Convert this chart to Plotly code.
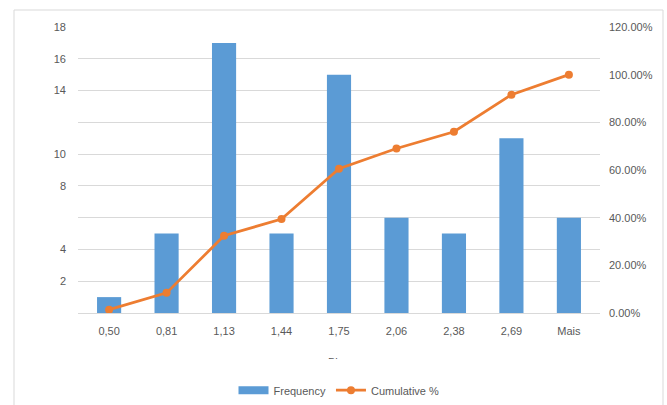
import plotly.graph_objects as go

# Histogram output: bin labels, counts per bin and cumulative share (%)
bins = ["0,50", "0,81", "1,13", "1,44", "1,75", "2,06", "2,38", "2,69", "Mais"]
frequency = [1, 5, 17, 5, 15, 6, 5, 11, 6]
cumulative_pct = [1.41, 8.45, 32.39, 39.44, 60.56, 69.01, 76.06, 91.55, 100.00]

left_ticks = [0, 2, 4, 6, 8, 10, 12, 14, 16, 18]
left_labels = ["", "2", "4", "", "8", "10", "", "14", "16", "18"]
right_ticks = [0, 0.2, 0.4, 0.6, 0.8, 1.0, 1.2]

FONT = "Liberation Sans"
TEXT = "#595959"
GRID = "#D9D9D9"
BLUE = "#5B9BD5"
ORANGE = "#ED7D31"

fig = go.Figure()
fig.add_trace(go.Bar(
    x=bins, y=frequency, name="Frequency", showlegend=False,
    marker=dict(color=BLUE, line=dict(width=0)),
    width=0.42,
))
# Legend entry for the bars, drawn as a wide flat swatch
fig.add_trace(go.Scatter(
    x=[None], y=[None], name="Frequency", mode="lines",
    line=dict(color=BLUE, width=8),
))
fig.add_trace(go.Scatter(
    x=bins, y=[v / 100 for v in cumulative_pct], name="Cumulative %",
    mode="lines+markers", yaxis="y2",
    line=dict(color=ORANGE, width=2.75),
    marker=dict(color=ORANGE, size=8),
))

fig.update_layout(
    width=667, height=405,
    margin=dict(l=78, r=67, t=27, b=92, autoexpand=False),
    paper_bgcolor="white", plot_bgcolor="white",
    font=dict(family=FONT, size=11, color=TEXT),
    showlegend=True,
    legend=dict(orientation="h", x=0.5, xanchor="center", y=-0.27, yanchor="middle",
                font=dict(family=FONT, size=11, color=TEXT),
                traceorder="normal", itemwidth=30),
    xaxis=dict(showgrid=False, showline=True, linecolor=GRID, linewidth=1,
               ticks="", tickfont=dict(size=11, color=TEXT), ticklabelstandoff=8),
    yaxis=dict(range=[0, 18], tickvals=left_ticks, ticktext=left_labels,
               showgrid=True, gridcolor=GRID, gridwidth=1, zeroline=False,
               showline=False, ticks="", ticklabelstandoff=11,
               tickfont=dict(size=11, color=TEXT)),
    yaxis2=dict(range=[0, 1.2], tickvals=right_ticks, tickformat=".2%",
                overlaying="y", side="right", showgrid=False, zeroline=False,
                showline=False, ticks="", ticklabelstandoff=8,
                tickfont=dict(size=11, color=TEXT)),
)

# Axis title, mostly hidden beneath the legend area
fig.add_annotation(text="Bins", x=0.5, xref="paper", y=-0.142, yref="paper",
                   yanchor="top", showarrow=False, height=3, valign="top",
                   font=dict(family=FONT, size=11, color=TEXT))

# Chart area border
fig.add_shape(type="rect", xref="paper", yref="paper",
              x0=-0.1226, x1=1.1207, y0=-0.45, y1=1.0594,
              line=dict(color=GRID, width=1), fillcolor="rgba(0,0,0,0)", layer="below")

fig.write_html("out.html")
